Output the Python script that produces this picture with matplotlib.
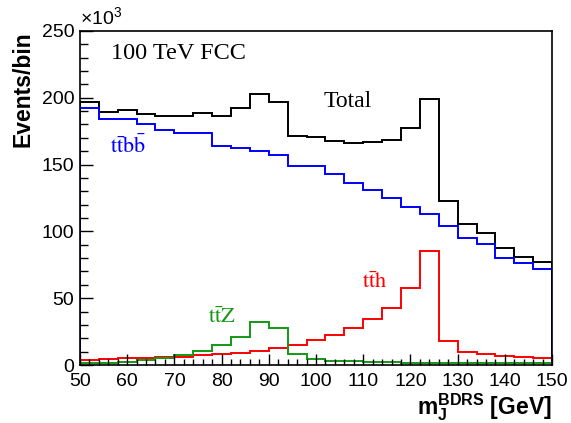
import numpy as np
import matplotlib
matplotlib.use('Agg')
import matplotlib.pyplot as plt
from matplotlib.ticker import MultipleLocator

plt.rcParams['mathtext.fontset'] = 'custom'
plt.rcParams['mathtext.rm'] = 'Liberation Sans'
plt.rcParams['mathtext.bf'] = 'Liberation Sans:bold'

# bin edges in GeV (25 bins of 4 GeV)
edges = np.arange(50, 151, 4)

# events per bin, in units of 10^3
total = [197, 189, 191, 188, 186, 186, 188.6, 186.4, 192, 202.6, 197, 171.4, 170.4,
         167.9, 166.4, 166.9, 168.4, 177.6, 199.1, 123, 105.3, 98.6, 87.3, 81.1, 76.9]
ttbb = [192.6, 183.9, 184.4, 180.4, 175.9, 173.9, 173.4, 164.2, 162.7, 160.4, 157.4, 149.2, 149,
        142.7, 136.5, 131, 124.8, 118.5, 113, 104.3, 95.3, 90.6, 80.3, 76.1, 72.1]
tth = [3.7, 4.2, 5.0, 5.2, 6.0, 6.2, 7.2, 8.0, 8.7, 10.2, 13, 15, 18.5,
       22.5, 28, 34.2, 42.4, 57.9, 85.3, 18, 10, 8, 6.7, 5.7, 5.0]
ttz = [1.5, 1.7, 2.5, 3.5, 5.0, 7.5, 10.7, 15, 21.2, 32.4, 27.9, 8, 4.5,
       3.2, 2.7, 2.2, 2.0, 1.8, 1.6, 1.5, 1.4, 1.3, 1.3, 1.2, 1.2]

green = '#129912'

fig = plt.figure(figsize=(5.71, 4.23), dpi=100)
ax = fig.add_axes([0.140, 0.137, 0.827, 0.790])

ax.stairs(tth, edges, baseline=0, color='red', lw=1.4)
ax.stairs(ttz, edges, baseline=0, color=green, lw=1.4)
ax.stairs(total, edges, baseline=0, color='black', lw=1.4)
ax.stairs(ttbb, edges, baseline=0, color='blue', lw=1.4)

ax.set_xlim(50, 150)
ax.set_ylim(0, 250)
ax.xaxis.set_major_locator(MultipleLocator(10))
ax.xaxis.set_minor_locator(MultipleLocator(2))
ax.yaxis.set_major_locator(MultipleLocator(50))
ax.yaxis.set_minor_locator(MultipleLocator(10))
ax.tick_params(which='both', direction='in', top=False, right=False, width=1)
ax.tick_params(axis='y', which='major', length=9.5)
ax.tick_params(axis='y', which='minor', length=5.5)
ax.tick_params(axis='x', which='major', length=8)
ax.tick_params(axis='x', which='minor', length=4)
ax.tick_params(axis='both', labelsize=14)
ax.tick_params(axis='x', pad=6)
ax.tick_params(axis='y', pad=4)
for lab in ax.get_xticklabels() + ax.get_yticklabels():
    lab.set_family('Liberation Sans')
for s in ax.spines.values():
    s.set_linewidth(1.2)

ax.text(0.0, 1.005, r'$\times10^{3}$', transform=ax.transAxes, fontsize=14,
        ha='left', va='bottom', family='Liberation Sans')

ax.set_ylabel('Events/bin', fontsize=16.5, fontweight='bold', family='Liberation Sans',
              loc='top', labelpad=5)
ax.set_xlabel(r'$\mathbf{m_{J}^{BDRS}}$ [GeV]', fontsize=16.5, fontweight='bold',
              family='Liberation Sans', loc='right', labelpad=1)

serif = 'Liberation Serif'
ax.text(56.6, 229, '100 TeV FCC', fontsize=17.5, family=serif, va='baseline')
ax.text(101.5, 193, 'Total', fontsize=17, family=serif, va='baseline')
ax.text(56.4, 159, r'$\mathrm{t\bar{t}b\bar{b}}$', fontsize=16, color='blue',
        math_fontfamily='stix', va='baseline')
ax.text(77.1, 31.4, r'$\mathrm{t\bar{t}Z}$', fontsize=16, color=green,
        math_fontfamily='stix', va='baseline')
ax.text(109.7, 57.6, r'$\mathrm{t\bar{t}h}$', fontsize=16, color='red',
        math_fontfamily='stix', va='baseline')

fig.savefig('out.png', dpi=100)
